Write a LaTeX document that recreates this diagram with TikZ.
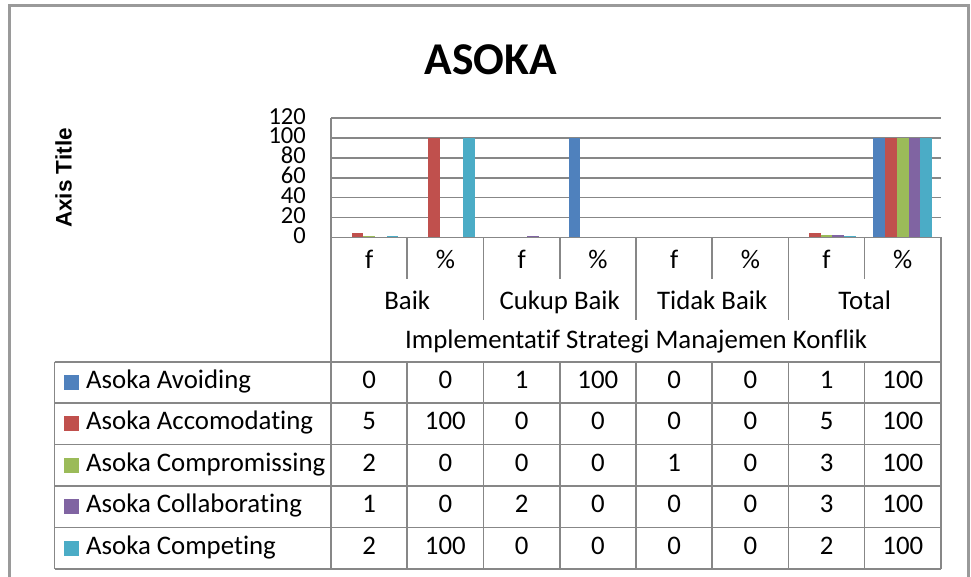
\documentclass[tikz,border=0pt]{standalone}
\usepackage{fontspec}
\setmainfont{Carlito}[Ligatures=NoCommon]
\newfontfamily\arialfont{Liberation Sans}
\definecolor{sA}{HTML}{4F81BD}
\definecolor{sB}{HTML}{C0504D}
\definecolor{sC}{HTML}{9BBB59}
\definecolor{sD}{HTML}{8064A2}
\definecolor{sE}{HTML}{4BACC6}
\definecolor{gridgray}{HTML}{878787}
\definecolor{framegray}{HTML}{9A9A9A}
\begin{document}
\begin{tikzpicture}[x=1pt,y=-1pt,
  gridln/.style={draw=gridgray, line width=1.6pt},
  tblln/.style={draw=gridgray, line width=1.6pt},
  framel/.style={draw=framegray, line width=3pt},
  txt/.style={font=\fontsize{26.8}{30}\selectfont, inner sep=0pt, anchor=base},
  ylbl/.style={font=\fontsize{24.5}{27}\selectfont, inner sep=0pt, anchor=base east},
  legsq/.style={inner sep=0pt, minimum size=15pt}
]
\useasboundingbox (0,0) rectangle (971,577);
\fill[white] (0,0) rectangle (971,577);
% outer frame
\draw[framel] (9.5,580) -- (9.5,6) -- (968.5,6) -- (968.5,580);
% title
\node[font=\bfseries\fontsize{45.5}{50}\selectfont, inner sep=0pt, anchor=base] (title) at (491,75) {ASOKA};
\node[font=\arialfont\bfseries\fontsize{22.5}{26}\selectfont, inner sep=0pt, anchor=base, rotate=90] (axtitle) at (71.5,178) {Axis Title};
% gridlines
\foreach \v in {20,40,...,120} {
  \draw[gridln] (331,{237.5-\v*0.9958}) -- (941.2,{237.5-\v*0.9958});
}
\foreach \v in {0,20,...,120} {
  \node[ylbl] (yl\v) at (306,{237.5-\v*0.9958+6}) {\v};
}
% bars: category, series index, value, colour
\foreach \c/\s/\v/\col in {
  0/1/5/sB, 0/2/2/sC, 0/3/1/sD, 0/4/2/sE,
  1/1/100/sB, 1/4/100/sE,
  2/0/1/sA, 2/3/2/sD,
  3/0/100/sA,
  4/2/1/sC,
  6/0/1/sA, 6/1/5/sB, 6/2/3/sC, 6/3/3/sD, 6/4/2/sE,
  7/0/100/sA, 7/1/100/sB, 7/2/100/sC, 7/3/100/sD, 7/4/100/sE} {
  \fill[\col] ({331+\c*76.24+8.8+\s*11.73},237.5) rectangle ++(11.73,{-\v*0.9958});
}
% category axis
\draw[gridln] (331,118) -- (331,361.7);
\draw[gridln] (331,237.5) -- (941.2,237.5) -- (941.2,361.7);
\foreach \i in {1,3,5,7} {
  \draw[gridln] ({331+\i*76.24},237.5) -- ({331+\i*76.24},279);
}
\foreach \i in {2,4,6} {
  \draw[gridln] ({331+\i*76.24},237.5) -- ({331+\i*76.24},320);
}
\foreach \i/\t in {0/f,1/\%,2/f,3/\%,4/f,5/\%,6/f,7/\%} {
  \node[txt] (sub\i) at ({331+(\i+0.5)*76.24},268.5) {\t};
}
\foreach \i/\t in {0/Baik,1/Cukup Baik,2/Tidak Baik,3/Total} {
  \node[txt] (grp\i) at ({331+(2*\i+1)*76.24},309.3) {\t};
}
\node[txt] (cattitle) at (636.1,348.3) {Implementatif Strategi Manajemen Konflik};
% data table
\foreach \r in {0,...,5} {
  \draw[tblln] (54.5,{361.7+\r*41.45}) -- (941.2,{361.7+\r*41.45});
}
\draw[tblln] (54.5,361.7) -- (54.5,569);
\foreach \i in {0,...,8} {
  \draw[tblln] ({331+\i*76.24},361.7) -- ({331+\i*76.24},569);
}
\foreach \r/\col/\name/\a/\b/\c/\d/\e/\f/\g/\h in {
  0/sA/Avoiding/0/0/1/100/0/0/1/100,
  1/sB/Accomodating/5/100/0/0/0/0/5/100,
  2/sC/Compromissing/2/0/0/0/1/0/3/100,
  3/sD/Collaborating/1/0/2/0/0/0/3/100,
  4/sE/Competing/2/100/0/0/0/0/2/100} {
  \node[legsq, fill=\col] (sq\r) at (71.5,{361.7+(\r+0.5)*41.45}) {};
  \node[txt, anchor=base west] (nm\r) at (86,{388.3+\r*41.45}) {Asoka \name};
  \foreach \k/\val in {0/\a,1/\b,2/\c,3/\d,4/\e,5/\f,6/\g,7/\h} {
    \node[txt] (v\r-\k) at ({331+(\k+0.5)*76.24},{388.3+\r*41.45}) {\val};
  }
}
\end{tikzpicture}
\end{document}
